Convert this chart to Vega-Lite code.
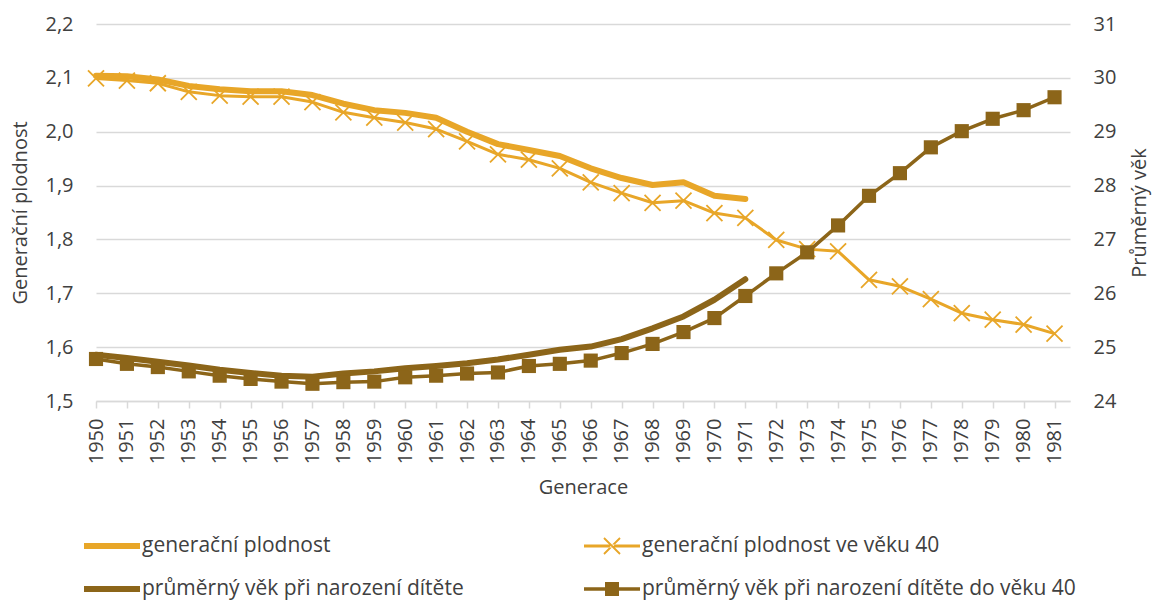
{
  "$schema": "https://vega.github.io/schema/vega-lite/v6.json",
  "width": 974,
  "height": 377,
  "autosize": {"type": "none"},
  "padding": {"left": 96, "top": 24, "right": 84, "bottom": 201},
  "background": "white",
  "config": {
    "font": "Open Sans",
    "view": {"stroke": null},
    "axis": {"labelFont": "Open Sans", "titleFont": "Open Sans", "labelFontSize": 20, "titleFontSize": 20, "labelColor": "#404040", "titleColor": "#404040", "titleFontWeight": "normal"},
    "legend": {"labelFont": "Open Sans", "labelFontSize": 21, "labelColor": "#404040", "symbolSize": 3136, "symbolOpacity": 1, "symbolStrokeWidth": 0, "labelOffset": 2, "padding": 0, "labelLimit": 700, "rowPadding": 5}
  },
  "data": {"values": [
    {"year": 1950, "series": "generační plodnost", "value": 2.104},
    {"year": 1951, "series": "generační plodnost", "value": 2.103},
    {"year": 1952, "series": "generační plodnost", "value": 2.097},
    {"year": 1953, "series": "generační plodnost", "value": 2.085},
    {"year": 1954, "series": "generační plodnost", "value": 2.079},
    {"year": 1955, "series": "generační plodnost", "value": 2.075},
    {"year": 1956, "series": "generační plodnost", "value": 2.075},
    {"year": 1957, "series": "generační plodnost", "value": 2.068},
    {"year": 1958, "series": "generační plodnost", "value": 2.052},
    {"year": 1959, "series": "generační plodnost", "value": 2.040},
    {"year": 1960, "series": "generační plodnost", "value": 2.035},
    {"year": 1961, "series": "generační plodnost", "value": 2.026},
    {"year": 1962, "series": "generační plodnost", "value": 2.000},
    {"year": 1963, "series": "generační plodnost", "value": 1.977},
    {"year": 1964, "series": "generační plodnost", "value": 1.966},
    {"year": 1965, "series": "generační plodnost", "value": 1.955},
    {"year": 1966, "series": "generační plodnost", "value": 1.932},
    {"year": 1967, "series": "generační plodnost", "value": 1.914},
    {"year": 1968, "series": "generační plodnost", "value": 1.901},
    {"year": 1969, "series": "generační plodnost", "value": 1.906},
    {"year": 1970, "series": "generační plodnost", "value": 1.881},
    {"year": 1971, "series": "generační plodnost", "value": 1.875},
    {"year": 1950, "series": "generační plodnost ve věku 40", "value": 2.099},
    {"year": 1951, "series": "generační plodnost ve věku 40", "value": 2.095},
    {"year": 1952, "series": "generační plodnost ve věku 40", "value": 2.090},
    {"year": 1953, "series": "generační plodnost ve věku 40", "value": 2.074},
    {"year": 1954, "series": "generační plodnost ve věku 40", "value": 2.067},
    {"year": 1955, "series": "generační plodnost ve věku 40", "value": 2.065},
    {"year": 1956, "series": "generační plodnost ve věku 40", "value": 2.065},
    {"year": 1957, "series": "generační plodnost ve věku 40", "value": 2.055},
    {"year": 1958, "series": "generační plodnost ve věku 40", "value": 2.036},
    {"year": 1959, "series": "generační plodnost ve věku 40", "value": 2.026},
    {"year": 1960, "series": "generační plodnost ve věku 40", "value": 2.017},
    {"year": 1961, "series": "generační plodnost ve věku 40", "value": 2.005},
    {"year": 1962, "series": "generační plodnost ve věku 40", "value": 1.982},
    {"year": 1963, "series": "generační plodnost ve věku 40", "value": 1.958},
    {"year": 1964, "series": "generační plodnost ve věku 40", "value": 1.948},
    {"year": 1965, "series": "generační plodnost ve věku 40", "value": 1.932},
    {"year": 1966, "series": "generační plodnost ve věku 40", "value": 1.906},
    {"year": 1967, "series": "generační plodnost ve věku 40", "value": 1.886},
    {"year": 1968, "series": "generační plodnost ve věku 40", "value": 1.868},
    {"year": 1969, "series": "generační plodnost ve věku 40", "value": 1.872},
    {"year": 1970, "series": "generační plodnost ve věku 40", "value": 1.849},
    {"year": 1971, "series": "generační plodnost ve věku 40", "value": 1.840},
    {"year": 1972, "series": "generační plodnost ve věku 40", "value": 1.799},
    {"year": 1973, "series": "generační plodnost ve věku 40", "value": 1.782},
    {"year": 1974, "series": "generační plodnost ve věku 40", "value": 1.778},
    {"year": 1975, "series": "generační plodnost ve věku 40", "value": 1.725},
    {"year": 1976, "series": "generační plodnost ve věku 40", "value": 1.713},
    {"year": 1977, "series": "generační plodnost ve věku 40", "value": 1.689},
    {"year": 1978, "series": "generační plodnost ve věku 40", "value": 1.663},
    {"year": 1979, "series": "generační plodnost ve věku 40", "value": 1.651},
    {"year": 1980, "series": "generační plodnost ve věku 40", "value": 1.642},
    {"year": 1981, "series": "generační plodnost ve věku 40", "value": 1.625},
    {"year": 1950, "series": "průměrný věk při narození dítěte", "value": 24.86},
    {"year": 1951, "series": "průměrný věk při narození dítěte", "value": 24.80},
    {"year": 1952, "series": "průměrný věk při narození dítěte", "value": 24.73},
    {"year": 1953, "series": "průměrný věk při narození dítěte", "value": 24.66},
    {"year": 1954, "series": "průměrný věk při narození dítěte", "value": 24.58},
    {"year": 1955, "series": "průměrný věk při narození dítěte", "value": 24.52},
    {"year": 1956, "series": "průměrný věk při narození dítěte", "value": 24.47},
    {"year": 1957, "series": "průměrný věk při narození dítěte", "value": 24.45},
    {"year": 1958, "series": "průměrný věk při narození dítěte", "value": 24.51},
    {"year": 1959, "series": "průměrný věk při narození dítěte", "value": 24.55},
    {"year": 1960, "series": "průměrný věk při narození dítěte", "value": 24.61},
    {"year": 1961, "series": "průměrný věk při narození dítěte", "value": 24.65},
    {"year": 1962, "series": "průměrný věk při narození dítěte", "value": 24.70},
    {"year": 1963, "series": "průměrný věk při narození dítěte", "value": 24.77},
    {"year": 1964, "series": "průměrný věk při narození dítěte", "value": 24.86},
    {"year": 1965, "series": "průměrný věk při narození dítěte", "value": 24.95},
    {"year": 1966, "series": "průměrný věk při narození dítěte", "value": 25.01},
    {"year": 1967, "series": "průměrný věk při narození dítěte", "value": 25.15},
    {"year": 1968, "series": "průměrný věk při narození dítěte", "value": 25.35},
    {"year": 1969, "series": "průměrný věk při narození dítěte", "value": 25.57},
    {"year": 1970, "series": "průměrný věk při narození dítěte", "value": 25.88},
    {"year": 1971, "series": "průměrný věk při narození dítěte", "value": 26.26},
    {"year": 1950, "series": "průměrný věk při narození dítěte do věku 40", "value": 24.78},
    {"year": 1951, "series": "průměrný věk při narození dítěte do věku 40", "value": 24.69},
    {"year": 1952, "series": "průměrný věk při narození dítěte do věku 40", "value": 24.63},
    {"year": 1953, "series": "průměrný věk při narození dítěte do věku 40", "value": 24.55},
    {"year": 1954, "series": "průměrný věk při narození dítěte do věku 40", "value": 24.47},
    {"year": 1955, "series": "průměrný věk při narození dítěte do věku 40", "value": 24.41},
    {"year": 1956, "series": "průměrný věk při narození dítěte do věku 40", "value": 24.36},
    {"year": 1957, "series": "průměrný věk při narození dítěte do věku 40", "value": 24.32},
    {"year": 1958, "series": "průměrný věk při narození dítěte do věku 40", "value": 24.35},
    {"year": 1959, "series": "průměrný věk při narození dítěte do věku 40", "value": 24.36},
    {"year": 1960, "series": "průměrný věk při narození dítěte do věku 40", "value": 24.44},
    {"year": 1961, "series": "průměrný věk při narození dítěte do věku 40", "value": 24.47},
    {"year": 1962, "series": "průměrný věk při narození dítěte do věku 40", "value": 24.51},
    {"year": 1963, "series": "průměrný věk při narození dítěte do věku 40", "value": 24.53},
    {"year": 1964, "series": "průměrný věk při narození dítěte do věku 40", "value": 24.65},
    {"year": 1965, "series": "průměrný věk při narození dítěte do věku 40", "value": 24.69},
    {"year": 1966, "series": "průměrný věk při narození dítěte do věku 40", "value": 24.75},
    {"year": 1967, "series": "průměrný věk při narození dítěte do věku 40", "value": 24.89},
    {"year": 1968, "series": "průměrný věk při narození dítěte do věku 40", "value": 25.06},
    {"year": 1969, "series": "průměrný věk při narození dítěte do věku 40", "value": 25.28},
    {"year": 1970, "series": "průměrný věk při narození dítěte do věku 40", "value": 25.54},
    {"year": 1971, "series": "průměrný věk při narození dítěte do věku 40", "value": 25.95},
    {"year": 1972, "series": "průměrný věk při narození dítěte do věku 40", "value": 26.37},
    {"year": 1973, "series": "průměrný věk při narození dítěte do věku 40", "value": 26.76},
    {"year": 1974, "series": "průměrný věk při narození dítěte do věku 40", "value": 27.26},
    {"year": 1975, "series": "průměrný věk při narození dítěte do věku 40", "value": 27.81},
    {"year": 1976, "series": "průměrný věk při narození dítěte do věku 40", "value": 28.23},
    {"year": 1977, "series": "průměrný věk při narození dítěte do věku 40", "value": 28.71},
    {"year": 1978, "series": "průměrný věk při narození dítěte do věku 40", "value": 29.01},
    {"year": 1979, "series": "průměrný věk při narození dítěte do věku 40", "value": 29.24},
    {"year": 1980, "series": "průměrný věk při narození dítěte do věku 40", "value": 29.40},
    {"year": 1981, "series": "průměrný věk při narození dítěte do věku 40", "value": 29.64}
  ]},
  "encoding": {
    "x": {
      "field": "year", "type": "quantitative",
      "scale": {"domain": [1950, 1981.5], "nice": false, "zero": false},
      "axis": {
        "values": [1950,1951,1952,1953,1954,1955,1956,1957,1958,1959,1960,1961,1962,1963,1964,1965,1966,1967,1968,1969,1970,1971,1972,1973,1974,1975,1976,1977,1978,1979,1980,1981],
        "format": "d", "labelAngle": 270, "labelPadding": 10, "labelFlush": false, "labelOverlap": false,
        "tickSize": 7, "tickColor": "#D9D9D9", "tickWidth": 1.5,
        "domainColor": "#D9D9D9", "domainWidth": 1.5, "grid": false,
        "title": "Generace", "titlePadding": 14
      }
    }
  },
  "layer": [
    {
      "encoding": {
        "y": {
          "field": "value", "type": "quantitative",
          "scale": {"domain": [1.5, 2.2], "nice": false, "zero": false},
          "axis": {
            "orient": "left", "values": [1.5, 1.6, 1.7, 1.8, 1.9, 2.0, 2.1, 2.2],
            "labelExpr": "replace(format(datum.value, '.1f'), '.', ',')",
            "grid": true, "gridColor": "#D9D9D9", "gridWidth": 1.5,
            "domain": false, "ticks": false, "labelPadding": 23,
            "title": "Generační plodnost", "titlePadding": 14
          }
        }
      },
      "layer": [
        {"transform": [{"filter": "datum.series === 'generační plodnost'"}], "mark": {"type": "line", "color": "#E8A628", "strokeWidth": 6, "strokeCap": "round", "strokeJoin": "round"}},
        {"transform": [{"filter": "datum.series === 'generační plodnost ve věku 40'"}], "mark": {"type": "line", "color": "#E8A628", "strokeWidth": 3, "strokeJoin": "round"}},
        {"transform": [{"filter": "datum.series === 'generační plodnost ve věku 40'"}], "mark": {"type": "point", "color": "#E8A628", "shape": "M-1,-1L1,1M-1,1L1,-1", "size": 256, "strokeWidth": 1.8, "filled": false, "opacity": 1}}
      ]
    },
    {
      "encoding": {
        "y": {
          "field": "value", "type": "quantitative",
          "scale": {"domain": [24, 31], "nice": false, "zero": false},
          "axis": {
            "orient": "right", "values": [24, 25, 26, 27, 28, 29, 30, 31], "format": "d",
            "grid": false, "domain": false, "ticks": false, "labelPadding": 23,
            "title": "Průměrný věk", "titleAngle": 270, "titleBaseline": "top", "titlePadding": 14
          }
        }
      },
      "layer": [
        {"transform": [{"filter": "datum.series === 'průměrný věk při narození dítěte'"}], "mark": {"type": "line", "color": "#8C6519", "strokeWidth": 6, "strokeCap": "round", "strokeJoin": "round"}},
        {"transform": [{"filter": "datum.series === 'průměrný věk při narození dítěte do věku 40'"}], "mark": {"type": "line", "color": "#8C6519", "strokeWidth": 3.5, "strokeJoin": "round"}},
        {"transform": [{"filter": "datum.series === 'průměrný věk při narození dítěte do věku 40'"}], "mark": {"type": "point", "color": "#8C6519", "shape": "square", "size": 200, "filled": true, "opacity": 1}}
      ]
    },
    {
      "mark": {"type": "point", "filled": true, "opacity": 0},
      "encoding": {
        "color": {
          "field": "series", "type": "nominal",
          "scale": {"domain": ["generační plodnost", "generační plodnost ve věku 40", "průměrný věk při narození dítěte", "průměrný věk při narození dítěte do věku 40"], "range": ["#E8A628", "#E8A628", "#8C6519", "#8C6519"]},
          "legend": {"title": null, "orient": "none", "direction": "horizontal", "legendX": -12, "legendY": 494, "columns": 2, "columnPadding": 120, "rowPadding": 5, "symbolOpacity": 1}
        },
        "shape": {
          "field": "series", "type": "nominal",
          "scale": {"domain": ["generační plodnost", "generační plodnost ve věku 40", "průměrný věk při narození dítěte", "průměrný věk při narození dítěte do věku 40"],
            "range": [
              "M-1,-0.107H1V0.107H-1Z",
              "M-1,-0.054H1V0.054H-1ZM-0.263,-0.309L0.309,0.263L0.263,0.309L-0.309,-0.263ZM-0.263,0.309L0.309,-0.263L0.263,-0.309L-0.309,0.263Z",
              "M-1,-0.107H1V0.107H-1Z",
              "M-1,-0.063H1V0.063H-1ZM-0.25,-0.25H0.25V0.25H-0.25Z"
            ]},
          "legend": {"title": null, "orient": "none", "direction": "horizontal", "legendX": -12, "legendY": 494, "columns": 2, "columnPadding": 120, "rowPadding": 5, "symbolOpacity": 1}
        }
      }
    }
  ],
  "resolve": {"scale": {"y": "independent"}}
}
